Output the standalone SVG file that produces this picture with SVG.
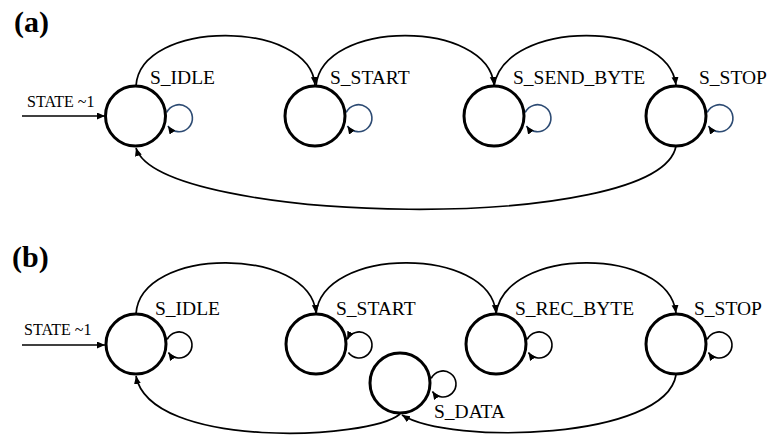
<svg xmlns="http://www.w3.org/2000/svg" width="768" height="435" viewBox="0 0 768 435">
<defs>
<marker id="ah" markerUnits="userSpaceOnUse" markerWidth="10" markerHeight="8" refX="8" refY="3.5" orient="auto">
<path d="M0,0 L8,3.5 L0,7 z" fill="#000"/>
</marker>
<style>
.node{fill:#fff;stroke:#000;stroke-width:3}
.lbl{font-family:"Liberation Serif","Times New Roman",serif;font-size:19.5px;fill:#000}
.in{font-family:"Liberation Serif","Times New Roman",serif;font-size:16px;fill:#000}
.tag{font-family:"Liberation Serif","Times New Roman",serif;font-size:30px;font-weight:bold;fill:#000}
.edge{fill:none;stroke:#000;stroke-width:1.7;marker-end:url(#ah)}
.loopa{fill:none;stroke:#2d4b73;stroke-width:1.6;marker-end:url(#ah)}
.loopb{fill:none;stroke:#000;stroke-width:1.6;marker-end:url(#ah)}
</style>
</defs>
<rect width="768" height="435" fill="#fff"/>
<text class="tag" x="14" y="32">(a)</text>
<text class="tag" x="12" y="267">(b)</text>

<g id="connectors">
<!-- (a) -->
<line class="edge" x1="22" y1="116" x2="105" y2="116"/>
<path class="edge" d="M136 86 C140 19, 310 19, 315 85"/>
<path class="edge" d="M316 86 C322 19, 488 19, 494 85"/>
<path class="edge" d="M494 86 C505 19, 668 19, 676 85"/>
<path class="edge" d="M676 146 C660 235, 160 225, 136 148"/>
<path class="loopa" d="M166.7 112.5 A13.5 13.5 0 1 1 167.9 126"/>
<path class="loopa" d="M346.2 112.5 A13.5 13.5 0 1 1 347.4 126"/>
<path class="loopa" d="M525.2 112.5 A13.5 13.5 0 1 1 526.4 126"/>
<path class="loopa" d="M707.2 112.5 A13.5 13.5 0 1 1 708.4 126"/>
<!-- (b) -->
<line class="edge" x1="22" y1="345" x2="105" y2="345"/>
<path class="edge" d="M136 314 C140 246, 310 246, 316 313"/>
<path class="edge" d="M316 314 C322 246, 490 246, 496 313"/>
<path class="edge" d="M496 314 C505 246, 668 246, 676 313"/>
<path class="edge" d="M400 414 C370 440, 150 450, 136 376"/>
<path class="edge" d="M676 375 C665 440, 450 445, 402 415"/>
<path class="loopb" d="M167.2 339.5 A13 13 0 1 1 168.4 352.5"/>
<path class="loopb" d="M348.4 352.5 A13 13 0 1 0 347.2 339.5"/>
<path class="loopb" d="M527.2 339.5 A13 13 0 1 1 528.4 352.5"/>
<path class="loopb" d="M707.2 339.5 A13 13 0 1 1 708.4 352.5"/>
<path class="loopb" d="M431.2 378.5 A13 13 0 1 1 432.4 391.5"/>
</g>

<text class="in" x="27" y="107">STATE ~1</text>
<text class="in" x="24" y="335">STATE ~1</text>

<g id="a_idle"><circle class="node" cx="135.5" cy="116" r="30"/><text class="lbl" x="150" y="84">S_IDLE</text></g>
<g id="a_start"><circle class="node" cx="315" cy="116" r="30"/><text class="lbl" x="330" y="84">S_START</text></g>
<g id="a_send"><circle class="node" cx="494" cy="116" r="30"/><text class="lbl" x="513" y="84">S_SEND_BYTE</text></g>
<g id="a_stop"><circle class="node" cx="676" cy="116" r="30"/><text class="lbl" x="699" y="84">S_STOP</text></g>

<g id="b_idle"><circle class="node" cx="136" cy="344" r="30"/><text class="lbl" x="155" y="315">S_IDLE</text></g>
<g id="b_start"><circle class="node" cx="316" cy="344" r="30"/><text class="lbl" x="336" y="315">S_START</text></g>
<g id="b_rec"><circle class="node" cx="496" cy="344" r="30"/><text class="lbl" x="515" y="315">S_REC_BYTE</text></g>
<g id="b_stop"><circle class="node" cx="676" cy="344" r="30"/><text class="lbl" x="694" y="315">S_STOP</text></g>
<g id="b_data"><circle class="node" cx="400" cy="383" r="30"/><text class="lbl" x="434" y="418">S_DATA</text></g>
</svg>
